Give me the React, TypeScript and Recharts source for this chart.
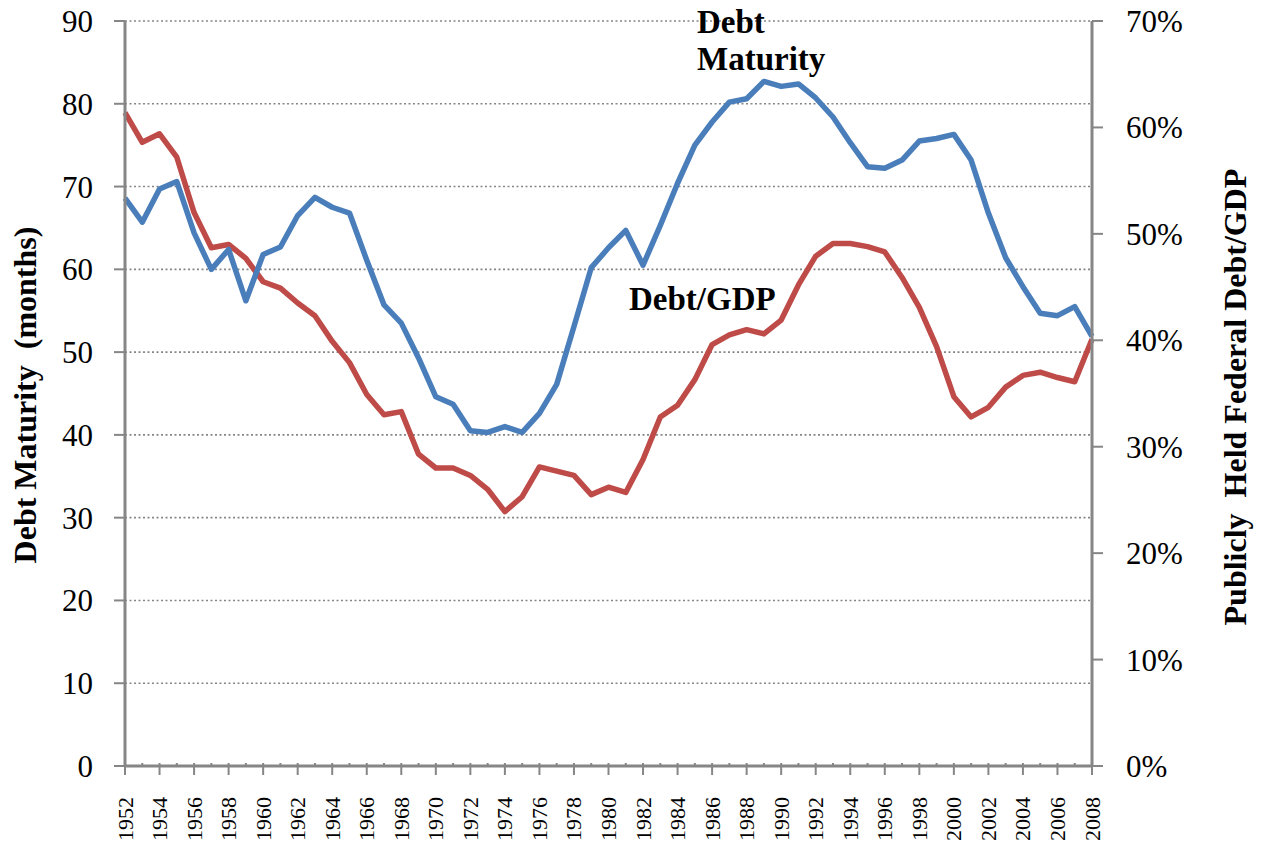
import React from "react";
import { LineChart, Line, XAxis, YAxis, CartesianGrid, Customized } from "recharts";

const years = [
  "1952","1953","1954","1955","1956","1957","1958","1959","1960","1961",
  "1962","1963","1964","1965","1966","1967","1968","1969","1970","1971",
  "1972","1973","1974","1975","1976","1977","1978","1979","1980","1981",
  "1982","1983","1984","1985","1986","1987","1988","1989","1990","1991",
  "1992","1993","1994","1995","1996","1997","1998","1999","2000","2001",
  "2002","2003","2004","2005","2006","2007","2008",
];

const debtMaturity = [
  68.6, 65.7, 69.7, 70.6, 64.4, 60.0, 62.4, 56.2, 61.8, 62.7,
  66.5, 68.7, 67.5, 66.8, 61.1, 55.7, 53.5, 49.3, 44.6, 43.7,
  40.5, 40.3, 41.0, 40.3, 42.6, 46.1, 53.1, 60.2, 62.6, 64.7,
  60.5, 65.3, 70.4, 75.0, 77.8, 80.2, 80.6, 82.7, 82.1, 82.4,
  80.7, 78.4, 75.3, 72.4, 72.2, 73.2, 75.5, 75.8, 76.3, 73.2,
  66.8, 61.4, 57.9, 54.7, 54.4, 55.5, 51.9,
];

const debtToGdp = [
  61.4, 58.6, 59.4, 57.2, 52.0, 48.7, 49.0, 47.7, 45.5, 44.9,
  43.5, 42.3, 39.9, 37.9, 34.9, 33.0, 33.3, 29.3, 28.0, 28.0,
  27.3, 26.0, 23.9, 25.3, 28.1, 27.7, 27.3, 25.5, 26.2, 25.7,
  28.8, 32.8, 33.9, 36.3, 39.6, 40.5, 41.0, 40.6, 41.9, 45.2,
  47.9, 49.1, 49.1, 48.8, 48.3, 45.9, 43.1, 39.4, 34.7, 32.8,
  33.7, 35.6, 36.7, 37.0, 36.5, 36.1, 40.1,
];

const leftTicks = [0, 10, 20, 30, 40, 50, 60, 70, 80, 90];
const rightTicks = [0, 10, 20, 30, 40, 50, 60, 70];

const data = years.map((y, i) => ({
  year: y,
  maturity: debtMaturity[i],
  gdp: debtToGdp[i],
}));

const FONT = "'Liberation Serif', 'Times New Roman', serif";
const AXIS_COLOR = "#868686";

const YearTick = (props: any) => {
  const { x, y, index, payload } = props;
  const major = index % 2 === 0;
  return (
    <g>
      <line x1={x} x2={x} y1={y - 3} y2={major ? y + 9 : y} stroke={AXIS_COLOR} strokeWidth={2} />
      {major && (
        <text
          x={x}
          y={y + 31}
          transform={`rotate(-90, ${x}, ${y + 31})`}
          textAnchor="end"
          dominantBaseline="central"
          fontFamily={FONT}
          fontSize={22}
          fill="#000"
        >
          {payload.value}
        </text>
      )}
    </g>
  );
};

const Annotations = () => (
  <g fontFamily={FONT} fontWeight="bold" fill="#000">
    <text x={689} y={33} fontSize={33}>Debt</text>
    <text x={689} y={70} fontSize={33}>Maturity</text>
    <text x={621} y={310} fontSize={33}>Debt/GDP</text>
    <text
      x={17}
      y={395}
      transform="rotate(-90, 17, 395)"
      textAnchor="middle"
      dominantBaseline="central"
      fontSize={32}
    >
      {"Debt Maturity\u00a0 (months)"}
    </text>
    <text
      x={1227}
      y={397}
      transform="rotate(-90, 1227, 397)"
      textAnchor="middle"
      dominantBaseline="central"
      fontSize={32}
    >
      {"Publicly\u00a0 Held Federal Debt/GDP"}
    </text>
  </g>
);

export default function App() {
  return (
    <div style={{ width: 1256, height: 850, marginTop: -8 }}>
      <LineChart
        width={1256}
        height={850}
        data={data}
        margin={{ top: 21, right: 0, bottom: 0, left: 0 }}
      >
        <CartesianGrid
          yAxisId="left"
          vertical={false}
          stroke={AXIS_COLOR}
          strokeDasharray="2 2.5"
          strokeWidth={1.6}
        />
        <XAxis
          dataKey="year"
          interval={0}
          tickSize={0}
          tickMargin={0}
          tickLine={false}
          tick={<YearTick />}
          height={84}
          axisLine={{ stroke: AXIS_COLOR, strokeWidth: 3 }}
          padding={{ left: 0, right: 0 }}
        />
        <YAxis
          yAxisId="left"
          orientation="left"
          width={117}
          domain={[0, 90]}
          ticks={leftTicks}
          interval={0}
          tickSize={11}
          tickMargin={21}
          axisLine={{ stroke: AXIS_COLOR, strokeWidth: 3 }}
          tickLine={{ stroke: AXIS_COLOR, strokeWidth: 2 }}
          tick={{ fontFamily: FONT, fontSize: 31, fill: "#000" }}
        />
        <YAxis
          yAxisId="right"
          orientation="right"
          width={172}
          domain={[0, 70]}
          ticks={rightTicks}
          interval={0}
          tickSize={11}
          tickMargin={23}
          tickFormatter={(v: number) => `${v}%`}
          axisLine={{ stroke: AXIS_COLOR, strokeWidth: 3 }}
          tickLine={{ stroke: AXIS_COLOR, strokeWidth: 2 }}
          tick={{ fontFamily: FONT, fontSize: 31, fill: "#000" }}
        />
        <Line
          yAxisId="right"
          dataKey="gdp"
          stroke="#BE4B48"
          strokeWidth={5.5}
          dot={false}
          isAnimationActive={false}
          strokeLinejoin="round"
        />
        <Line
          yAxisId="left"
          dataKey="maturity"
          stroke="#4A7EBB"
          strokeWidth={5.5}
          dot={false}
          isAnimationActive={false}
          strokeLinejoin="round"
        />
        <Customized component={Annotations} />
      </LineChart>
    </div>
  );
}
